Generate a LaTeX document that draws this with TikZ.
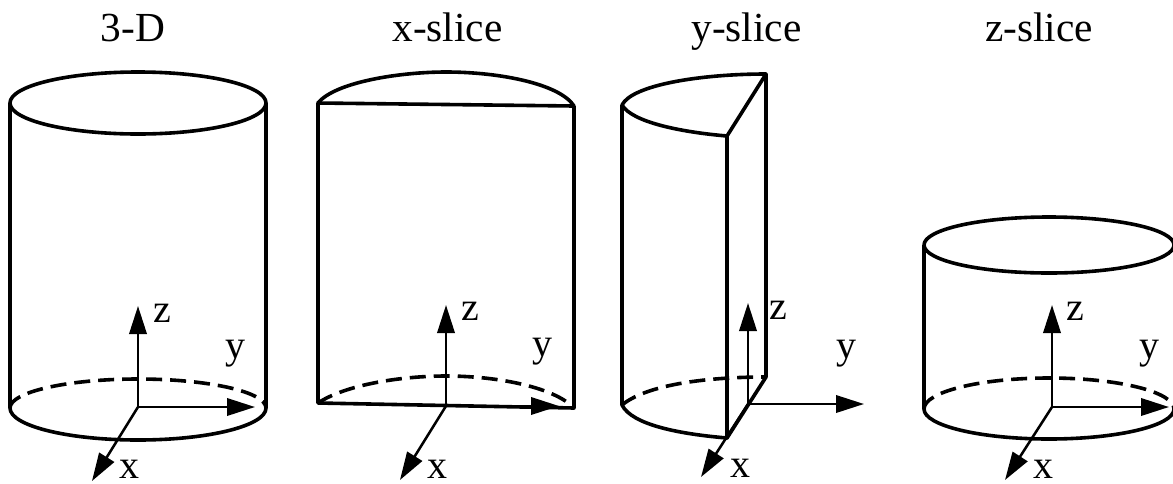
\documentclass[tikz,border=0pt]{standalone}
\usepackage{fontspec}
\setmainfont{Liberation Serif}
\usetikzlibrary{arrows.meta}
\tikzset{
  body/.style={line width=2.7pt,black,line join=round},
  hidden/.style={line width=2.7pt,black,dash pattern=on 12pt off 6pt},
  axis/.style={line width=1.9pt,black,-{Triangle[length=21pt,width=13pt]}},
  lab/.style={font=\fontsize{30}{30}\selectfont,inner sep=0pt,text=black,anchor=base},
  ttl/.style={lab,font=\fontsize{31}{31}\selectfont},
}
\newcommand{\axes}[7]{% name, origin x, origin y, z tip y, y tip x, x tip x, x tip y
  \coordinate (#1o) at (#2,#3);
  \coordinate (#1z) at (#2,#4);
  \coordinate (#1y) at (#5,#3);
  \coordinate (#1x) at (#6,#7);
  \draw[axis] (#1o) -- (#1z);
  \draw[axis] (#1o) -- (#1y);
  \draw[axis] (#1o) -- (#1x);
}
\begin{document}
\begin{tikzpicture}[x=0.75pt,y=-0.75pt]
\useasboundingbox (0,0) rectangle (1173,483);
% titles
\node[ttl] (t1) at (133,41) {3-D};
\node[ttl] (t2) at (447.5,41) {x-slice};
\node[ttl] (t3) at (746.5,41) {y-slice};
\node[ttl] (t4) at (1039,41) {z-slice};
% cylinder 1
\draw[body] (138,103) ellipse [x radius=128,y radius=31];
\draw[body] (10,103) -- (10,408) arc[start angle=180,end angle=0,x radius=128,y radius=32] -- (266,103);
\draw[hidden] (10,408) arc[start angle=180,end angle=360,x radius=128,y radius=29];
\axes{a}{138}{407}{306}{255}{92}{481}
\node[lab] (az) at (162,322) {z};
\node[lab] (ay) at (235,358) {y};
\node[lab] (ax) at (129,478) {x};
% cylinder 2
\draw[body] (318,103) .. controls (335,82) and (400,72) .. (446,72) .. controls (500,72) and (560,84) .. (574,106);
\draw[body] (318,103) -- (574,106) -- (574,408) -- (318,403) -- cycle;
\draw[hidden] (318,403) .. controls (345,385) and (400,376) .. (446,376) .. controls (500,376) and (555,388) .. (574,408);
\axes{b}{446}{406}{305}{559}{400}{480}
\node[lab] (bz) at (470,320) {z};
\node[lab] (by) at (542,356) {y};
\node[lab] (bx) at (437,478) {x};
% cylinder 3
\draw[body] (622,105) .. controls (632,85) and (700,74) .. (766,74) -- (727,136) .. controls (680,132) and (632,122) .. (622,105) -- (622,405) .. controls (632,425) and (680,434) .. (727,438) -- (727,136);
\draw[body] (766,74) -- (766,377) -- (727,438);
\draw[hidden] (622,405) .. controls (645,386) and (700,377) .. (766,377);
\axes{c}{748}{404}{303}{864}{701}{477}
\node[lab] (cz) at (778,319) {z};
\node[lab] (cy) at (846,358) {y};
\node[lab] (cx) at (740,477) {x};
% cylinder 4
\draw[body] (1049,245) ellipse [x radius=125,y radius=28];
\draw[body] (924,245) -- (924,409) arc[start angle=180,end angle=0,x radius=125,y radius=30];
\draw[hidden] (924,409) arc[start angle=180,end angle=360,x radius=125,y radius=31];
\axes{d}{1052}{407}{305}{1169}{1005}{480}
\node[lab] (dz) at (1075,320) {z};
\node[lab] (dy) at (1149,358) {y};
\node[lab] (dx) at (1043,478) {x};
\end{tikzpicture}
\end{document}
